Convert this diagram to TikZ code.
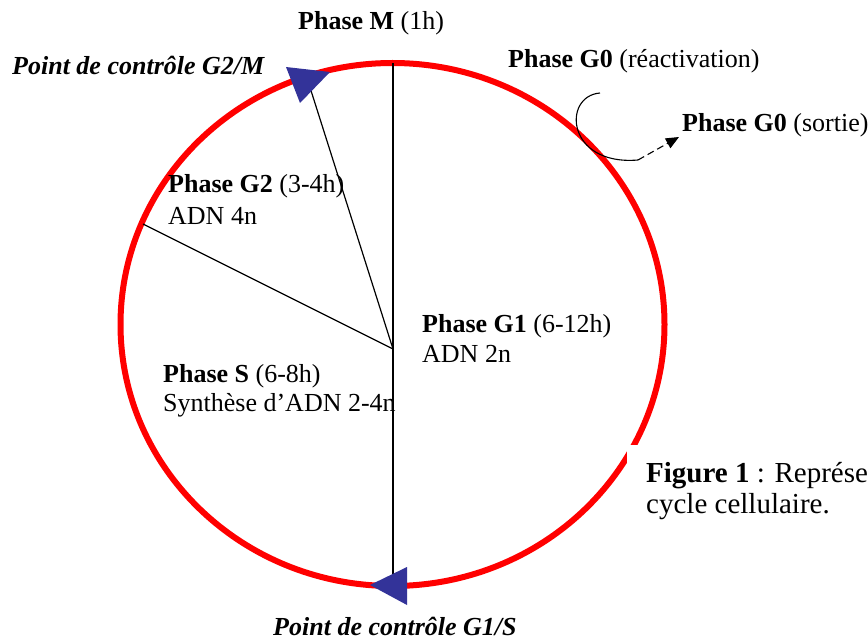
\documentclass[tikz,border=0pt]{standalone}
\usepackage{fontspec}
\setmainfont{Liberation Serif}
\usetikzlibrary{arrows.meta}
\definecolor{cyclered}{RGB}{255,0,0}
\definecolor{checkblue}{RGB}{51,51,153}
\begin{document}
\begin{tikzpicture}[x=1pt,y=-1pt,
  lbl/.style={anchor=base west, inner sep=0pt, font=\fontsize{26}{30}\selectfont},
  captext/.style={anchor=base west, inner sep=0pt, font=\fontsize{29}{31}\selectfont},
  ring/.style={cyclered, line width=6pt},
  spoke/.style={black, line width=1.2pt},
  thinarrow/.style={black, line width=1.1pt},
  checktip/.style={fill=checkblue, draw=none}]
\useasboundingbox (0,0) rectangle (868,639);
\clip (0,0) rectangle (868,639);

% cell cycle ring
\draw[ring] (392.5,324.5) ellipse [x radius=272pt, y radius=261.5pt];

% phase boundaries
\coordinate (hub) at (393,349);
\coordinate (mtop) at (393,63);
\coordinate (g1s) at (393,586);
\coordinate (g2m) at (307,78);
\coordinate (sg2) at (143,224);
\draw[spoke] (mtop) -- (g1s);
\draw[spoke] (hub) -- (g2m);
\draw[spoke] (hub) -- (sg2);

% checkpoint arrowheads, pointing along the cycle
\fill[checktip] (330,72) -- (286,67) -- (300,103) -- cycle;
\fill[checktip] (370,585) -- (407,567) -- (407,605) -- cycle;

% G0 exit arrow
\coordinate (g0a) at (600,93);
\coordinate (g0b) at (638,160);
\coordinate (g0tip) at (679,137);
\draw[thinarrow] (g0a) .. controls (562,96) and (566,166) .. (g0b);
\draw[thinarrow, dash pattern=on 7pt off 4pt, -{Triangle[length=13pt,width=11pt]}] (g0b) -- (g0tip);

% labels
\node[lbl] (phm) at (298,30) {\textbf{Phase M} (1h)};
\node[lbl] (ckg2m) at (12,75) {\textbf{\itshape Point de contrôle G2/M}};
\node[lbl] (g0re) at (508,68) {\textbf{Phase G0} (réactivation)};
\node[lbl] (g0so) at (682,132) {\textbf{Phase G0} (sortie)};
\node[lbl] (g2a) at (168,193) {\textbf{Phase G2} (3-4h)};
\node[lbl] (g2b) at (168,225) {ADN 4n};
\node[lbl] (g1a) at (422,332) {\textbf{Phase G1} (6-12h)};
\node[lbl] (g1b) at (422,362) {ADN 2n};
\node[lbl] (sa) at (163,382) {\textbf{Phase S} (6-8h)};
\node[lbl] (sb) at (163,411) {Synthèse d’ADN 2-4n};
\node[lbl] (ckg1s) at (273,635) {\textbf{\itshape Point de contrôle G1/S}};

% caption panel
\fill[white] (627,445) rectangle (868,639);
\node[captext] (fig1) at (646,482) {\textbf{Figure 1} : Représe};
\node[captext] (fig2) at (646,513) {cycle cellulaire.};
\end{tikzpicture}
\end{document}
